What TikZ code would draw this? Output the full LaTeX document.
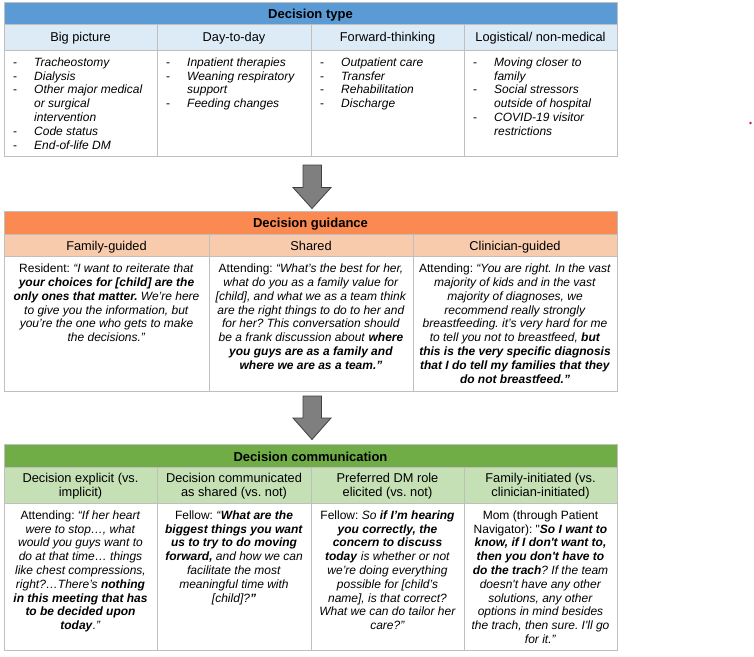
\documentclass[tikz,border=0pt]{standalone}
\usepackage{fontspec}
\setmainfont{Liberation Sans}
\definecolor{bordergray}{HTML}{BFBFBF}
\definecolor{blueH}{HTML}{5B9BD5}
\definecolor{blueS}{HTML}{DDEBF7}
\definecolor{orangeH}{HTML}{FA8A52}
\definecolor{orangeS}{HTML}{F8CBAD}
\definecolor{greenH}{HTML}{70AD47}
\definecolor{greenS}{HTML}{C5E0B4}
\definecolor{arrowgray}{HTML}{7F7F7F}
\definecolor{arrowedge}{HTML}{404040}
\definecolor{dotred}{HTML}{C0203A}
\newcommand\fstrut{\rule{0pt}{10pt}}
\newcommand\myit[1]{\textit{#1}}
\newcommand\mybi[1]{\textbf{\textit{#1}}}
\newcommand\bul[1]{\makebox[21pt][l]{-}\textit{#1}}
\newcommand\cont[1]{\hspace*{21pt}\textit{#1}}
\frenchspacing
\tikzset{
  hdr/.style={font=\fontsize{13}{15}\selectfont\bfseries, anchor=base, inner sep=0pt},
  sub/.style={font=\fontsize{12.8}{14}\selectfont, anchor=base, inner sep=0pt},
  subm/.style={font=\fontsize{12.8}{14}\selectfont, anchor=north, inner sep=0pt, align=center},
  body/.style={font=\fontsize{12}{13.8}\selectfont\frenchspacing, anchor=north, inner sep=0pt, align=center},
  blist/.style={font=\fontsize{12}{13.8}\selectfont, anchor=north west, inner sep=0pt, align=left},
  grid/.style={draw=bordergray, line width=1pt},
  bigarrow/.style={fill=arrowgray, draw=arrowedge, line width=0.8pt, line join=miter},
}
\begin{document}
\begin{tikzpicture}[x=1pt,y=-1pt]
\useasboundingbox[fill=white] (0,0) rectangle (754,656);

% ---------------- Table 1: Decision type
\fill[blueH] (4,2) rectangle (617,24);
\fill[blueS] (4,24) rectangle (617,50);
\draw[grid] (4,24) -- (617,24);
\draw[grid] (4,50) -- (617,50);
\foreach \x in {157,311,464} \draw[grid] (\x,24) -- (\x,156);
\draw[grid] (4,2) rectangle (617,156);

\node[hdr] (dtype) at (310.5,18.5) {Decision type};
\node[sub] (bp) at (80.5,41.5) {Big picture};
\node[sub] (dd) at (234,41.5) {Day-to-day};
\node[sub] (ft) at (387.5,41.5) {Forward-thinking};
\node[sub] (lg) at (540.5,41.5) {Logistical/ non-medical};

\node[blist] (bpl) at (13,56) {\fstrut\bul{Tracheostomy}\\\bul{Dialysis}\\\bul{Other major medical}\\\cont{or surgical}\\\cont{intervention}\\\bul{Code status}\\\bul{End-of-life DM}};
\node[blist] (ddl) at (166,56) {\fstrut\bul{Inpatient therapies}\\\bul{Weaning respiratory}\\\cont{support}\\\bul{Feeding changes}};
\node[blist] (ftl) at (320,56) {\fstrut\bul{Outpatient care}\\\bul{Transfer}\\\bul{Rehabilitation}\\\bul{Discharge}};
\node[blist] (lgl) at (473,56) {\fstrut\bul{Moving closer to}\\\cont{family}\\\bul{Social stressors}\\\cont{outside of hospital}\\\bul{COVID-19 visitor}\\\cont{restrictions}};

% ---------------- Arrow 1
\draw[bigarrow] (303,165) -- (321.5,165) -- (321.5,187.5) -- (331,187.5) -- (312,208.5) -- (293,187.5) -- (303,187.5) -- cycle;

% ---------------- Table 2: Decision guidance
\fill[orangeH] (4,211) rectangle (617,234);
\fill[orangeS] (4,234) rectangle (617,256);
\draw[grid] (4,234) -- (617,234);
\draw[grid] (4,256) -- (617,256);
\foreach \x in {209,413} \draw[grid] (\x,234) -- (\x,391);
\draw[grid] (4,211) rectangle (617,391);

\node[hdr] (dguid) at (310.5,227) {Decision guidance};
\node[sub] (fg) at (106.5,250) {Family-guided};
\node[sub] (sh) at (311,250) {Shared};
\node[sub] (cg) at (515,250) {Clinician-guided};

\node[body] (fgq) at (106.5,262.5) {\fstrut Resident: \myit{“I want to reiterate that}\\
\mybi{your choices for [child] are the}\\
\mybi{only ones that matter.}\myit{ We’re here}\\
\myit{to give you the information, but}\\
\myit{you’re the one who gets to make}\\
\myit{the decisions.”}};
\node[body] (shq) at (311,262.5) {\fstrut Attending: \myit{“What’s the best for her,}\\
\myit{what do you as a family value for}\\
\myit{[child], and what we as a team think}\\
\myit{are the right things to do to her and}\\
\myit{for her? This conversation should}\\
\myit{be a frank discussion about }\mybi{where}\\
\mybi{you guys are as a family and}\\
\mybi{where we are as a team.”}};
\node[body] (cgq) at (515,262.5) {\fstrut Attending: \myit{“You are right. In the vast}\\
\myit{majority of kids and in the vast}\\
\myit{majority of diagnoses, we}\\
\myit{recommend really strongly}\\
\myit{breastfeeding. it’s very hard for me}\\
\myit{to tell you not to breastfeed, }\mybi{but}\\
\mybi{this is the very specific diagnosis}\\
\mybi{that I do tell my families that they}\\
\mybi{do not breastfeed.”}};

% ---------------- Arrow 2
\draw[bigarrow] (303,396) -- (321.5,396) -- (321.5,418) -- (331,418) -- (312,439.5) -- (293,418) -- (303,418) -- cycle;

% ---------------- Table 3: Decision communication
\fill[greenH] (4,444) rectangle (617,467);
\fill[greenS] (4,467) rectangle (617,503);
\draw[grid] (4,467) -- (617,467);
\draw[grid] (4,503) -- (617,503);
\foreach \x in {157,311,464} \draw[grid] (\x,467) -- (\x,650);
\draw[grid] (4,444) rectangle (617,650);

\node[hdr] (dcomm) at (310.5,461) {Decision communication};
\node[subm] (de) at (80.5,472) {\fstrut Decision explicit (vs.\\implicit)};
\node[subm] (dc) at (234,472) {\fstrut Decision communicated\\as shared (vs. not)};
\node[subm] (pd) at (387.5,472) {\fstrut Preferred DM role\\elicited (vs. not)};
\node[subm] (fi) at (540.5,472) {\fstrut Family-initiated (vs.\\clinician-initiated)};

\node[body] (deq) at (80.5,509) {\fstrut Attending: \myit{“If her heart}\\
\myit{were to stop…, what}\\
\myit{would you guys want to}\\
\myit{do at that time… things}\\
\myit{like chest compressions,}\\
\myit{right?…There’s }\mybi{nothing}\\
\mybi{in this meeting that has}\\
\mybi{to be decided upon}\\
\mybi{today}\myit{.”}};
\node[body] (dcq) at (234,509) {\fstrut Fellow: \myit{“}\mybi{What are the}\\
\mybi{biggest things you want}\\
\mybi{us to try to do moving}\\
\mybi{forward,}\myit{ and how we can}\\
\myit{facilitate the most}\\
\myit{meaningful time with}\\
\myit{[child]?}\mybi{”}};
\node[body] (pdq) at (387.5,509) {\fstrut Fellow: \myit{So }\mybi{if I’m hearing}\\
\mybi{you correctly, the}\\
\mybi{concern to discuss}\\
\mybi{today}\myit{ is whether or not}\\
\myit{we’re doing everything}\\
\myit{possible for [child’s}\\
\myit{name], is that correct?}\\
\myit{What we can do tailor her}\\
\myit{care?”}};
\node[body] (fiq) at (540.5,509) {\fstrut Mom (through Patient\\
Navigator): \textquotedbl\mybi{So I want to}\\
\mybi{know, if I don\textquotesingle t want to,}\\
\mybi{then you don\textquotesingle t have to}\\
\mybi{do the trach}\myit{? If the team}\\
\myit{doesn\textquotesingle t have any other}\\
\myit{solutions, any other}\\
\myit{options in mind besides}\\
\myit{the trach, then sure. I\textquotesingle ll go}\\
\myit{for it.”}};

% ---------------- stray dot
\fill[dotred] (750.5,123) circle (1.4);
\end{tikzpicture}
\end{document}
